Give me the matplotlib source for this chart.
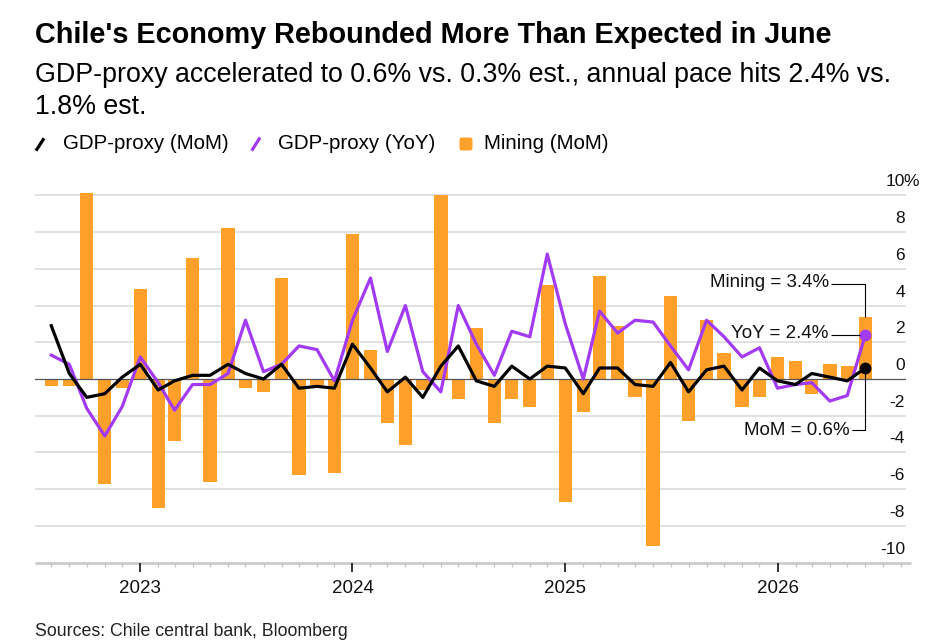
import matplotlib
matplotlib.use('Agg')
import matplotlib.pyplot as plt
import matplotlib.dates as mdates
import matplotlib.transforms as mtransforms
from matplotlib.lines import Line2D
from matplotlib.patches import FancyBboxPatch
import pandas as pd
import datetime as dt

# ---------------- data ----------------
months = pd.date_range('2022-08-01', periods=47, freq='MS')

mining_mom = [-0.4, -0.4, 10.1, -5.7, -0.5, 4.9, -7.0, -3.4, 6.6, -5.6, 8.2, -0.5,
              -0.7, 5.5, -5.2, -0.3, -5.1, 7.9, 1.6, -2.4, -3.6, -0.6, 10.0, -1.1,
              2.8, -2.4, -1.1, -1.5, 5.1, -6.7, -1.8, 5.6, 2.9, -1.0, -9.1, 4.5,
              -2.3, 3.2, 1.4, -1.5, -1.0, 1.2, 1.0, -0.8, 0.8, 0.7, 3.4]

gdp_mom = [2.9, 0.3, -1.0, -0.8, 0.1, 0.8, -0.6, -0.1, 0.2, 0.2, 0.8, 0.3,
           0.0, 0.8, -0.5, -0.4, -0.5, 1.9, 0.6, -0.7, 0.1, -1.0, 0.7, 1.8,
           -0.1, -0.4, 0.7, 0.0, 0.7, 0.6, -0.8, 0.6, 0.6, -0.3, -0.4, 0.9,
           -0.7, 0.5, 0.7, -0.6, 0.6, -0.1, -0.3, 0.3, 0.1, -0.1, 0.6]

gdp_yoy = [1.3, 0.8, -1.6, -3.1, -1.5, 1.2, -0.2, -1.7, -0.3, -0.3, 0.3, 3.2,
           0.4, 0.8, 1.8, 1.6, -0.1, 3.2, 5.5, 1.5, 4.0, 0.4, -0.7, 4.0,
           1.9, 0.2, 2.6, 2.3, 6.8, 3.0, 0.0, 3.7, 2.5, 3.2, 3.1, 1.8,
           0.5, 3.2, 2.3, 1.2, 1.7, -0.5, -0.3, -0.2, -1.2, -0.9, 2.4]

y_ticks = [-10, -8, -6, -4, -2, 0, 2, 4, 6, 8, 10]
y_tick_labels = ['-10', '-8', '-6', '-4', '-2', '0', '2', '4', '6', '8', '10']
year_labels = ['2023', '2024', '2025', '2026']

title = "Chile's Economy Rebounded More Than Expected in June"
subtitle_1 = "GDP-proxy accelerated to 0.6% vs. 0.3% est., annual pace hits 2.4% vs."
subtitle_2 = "1.8% est."
legend_labels = ['GDP-proxy (MoM)', 'GDP-proxy (YoY)', 'Mining (MoM)']
source = "Sources: Chile central bank, Bloomberg"

# ---------------- style ----------------
ORANGE = '#FFA02B'
PURPLE = '#A23AF6'
BLACK = '#000000'
GRID = '#d9d9d9'

plt.rcParams['font.family'] = ['Liberation Sans', 'DejaVu Sans']

W, H = 936, 640
fig = plt.figure(figsize=(W / 100, H / 100), dpi=100)
ID = mtransforms.IdentityTransform()


def ftext(x, y_top, s, **kw):
    return fig.text(x / W, 1 - y_top / H, s, va='baseline', ha=kw.pop('ha', 'left'), **kw)


ax_bottom, ax_top = 562.7, 189.8
ax = fig.add_axes([35 / W, 1 - ax_bottom / H, 871 / W, (ax_bottom - ax_top) / H])
ax.set_xlim(dt.date(2022, 7, 4), dt.date(2026, 8, 10))
ax.set_ylim(-10, 10.3)
for s in ax.spines.values():
    s.set_visible(False)
ax.patch.set_alpha(0)

# gridlines
for v in y_ticks:
    if v in (0, -10):
        continue
    ax.axhline(v, color=GRID, lw=1.1, zorder=1)

# bottom axis line
ax.plot([0, 1.006], [0, 0], transform=ax.transAxes, color='#cccccc', lw=2.0,
        clip_on=False, zorder=1, solid_capstyle='butt')

# bars
ax.bar(months, mining_mom, width=23, color=ORANGE, zorder=2, linewidth=0)

# zero line
ax.axhline(0, color='#555555', lw=0.9, zorder=3)

# lines
ax.plot(months, gdp_yoy, color=PURPLE, lw=2.3, zorder=4)
ax.plot(months, gdp_mom, color=BLACK, lw=2.3, zorder=5)
ax.plot([months[-1]], [gdp_yoy[-1]], 'o', color=PURPLE, ms=7.5, zorder=6)
ax.plot([months[-1]], [gdp_mom[-1]], 'o', color=BLACK, ms=7.5, zorder=7)

# x ticks
ax.xaxis.set_major_locator(mdates.YearLocator())
ax.xaxis.set_minor_locator(mdates.MonthLocator())
ax.tick_params(axis='x', which='major', length=6.5, width=1.1, color='black',
               labelbottom=False, direction='out')
ax.tick_params(axis='x', which='minor', length=3.2, width=0.9, color='#c4c4c4',
               direction='out')
ax.tick_params(axis='y', left=False, labelleft=False, right=False)

# year labels
yr_trans = mtransforms.offset_copy(
    mtransforms.blended_transform_factory(ax.transData, ax.transAxes),
    fig=fig, x=0, y=-30, units='dots')
for lab in year_labels:
    ax.text(pd.Timestamp(f'{lab}-01-01'), 0, lab, transform=yr_trans,
            ha='center', va='baseline', fontsize=13.5, color='#111111')

# y labels
ylab_trans = mtransforms.offset_copy(
    mtransforms.blended_transform_factory(ax.transAxes, ax.transData),
    fig=fig, x=-1, y=9, units='dots')
pct_trans = mtransforms.offset_copy(
    mtransforms.blended_transform_factory(ax.transAxes, ax.transData),
    fig=fig, x=-2.5, y=9, units='dots')
for v, lab in zip(y_ticks, y_tick_labels):
    ax.text(1.0, v, lab, transform=ylab_trans, ha='right', va='baseline',
            fontsize=12.5, color='#111111', clip_on=False)
    if v == max(y_ticks):
        ax.text(1.0, v, '%', transform=pct_trans, ha='left', va='baseline',
                fontsize=12.5, color='#111111', clip_on=False)

# annotations (elbow leaders, display pixels)
xl = mdates.date2num(months[-1])
bx, by_min = ax.transData.transform((xl, mining_mom[-1]))
_, by_yoy = ax.transData.transform((xl, gdp_yoy[-1]))
_, by_mom = ax.transData.transform((xl, gdp_mom[-1]))
lk = dict(color='black', lw=0.8, transform=ID, zorder=8, solid_capstyle='butt')

fig.add_artist(Line2D([bx, bx, bx - 34], [by_min, by_min + 33, by_min + 33], **lk))
fig.text(bx - 36, by_min + 30, f'Mining = {mining_mom[-1]:.1f}%', transform=ID,
         ha='right', va='baseline', fontsize=13.5, color='#111111')

fig.add_artist(Line2D([bx - 5, bx - 34], [by_yoy, by_yoy], **lk))
fig.text(bx - 37, by_yoy - 3.5, f'YoY = {gdp_yoy[-1]:.1f}%', transform=ID,
         ha='right', va='baseline', fontsize=13.5, color='#111111')

fig.add_artist(Line2D([bx, bx, bx - 13.5], [by_mom, by_mom - 62, by_mom - 62], **lk))
fig.text(bx - 15.5, by_mom - 67, f'MoM = {gdp_mom[-1]:.1f}%', transform=ID,
         ha='right', va='baseline', fontsize=13.5, color='#111111')

# ---------------- header ----------------
ftext(35, 43.3, title, fontsize=20.8, fontweight='bold', color='black')
ftext(35, 81.7, subtitle_1, fontsize=19.3, color='black')
ftext(35, 114.0, subtitle_2, fontsize=19.3, color='black')

# legend
lw_px = 2.3
fig.add_artist(Line2D([36, 44], [H - 150.7, H - 138.3], color=BLACK, lw=lw_px,
                      transform=ID, solid_capstyle='butt'))
ftext(62.7, 149.3, legend_labels[0], fontsize=14.8, color='black')
fig.add_artist(Line2D([251.7, 260], [H - 150.7, H - 137.5], color=PURPLE, lw=lw_px,
                      transform=ID, solid_capstyle='butt'))
ftext(278.3, 149.3, legend_labels[1], fontsize=14.8, color='black')
sq = FancyBboxPatch((460.5, H - 149.5), 11, 11,
                    boxstyle='round,pad=1,rounding_size=2.5',
                    facecolor=ORANGE, edgecolor='none', transform=ID)
fig.add_artist(sq)
ftext(484.3, 149.3, legend_labels[2], fontsize=14.8, color='black')

# source
ftext(35, 635.5, source, fontsize=12.8, color='#222222')

fig.savefig('out.png', dpi=100)
